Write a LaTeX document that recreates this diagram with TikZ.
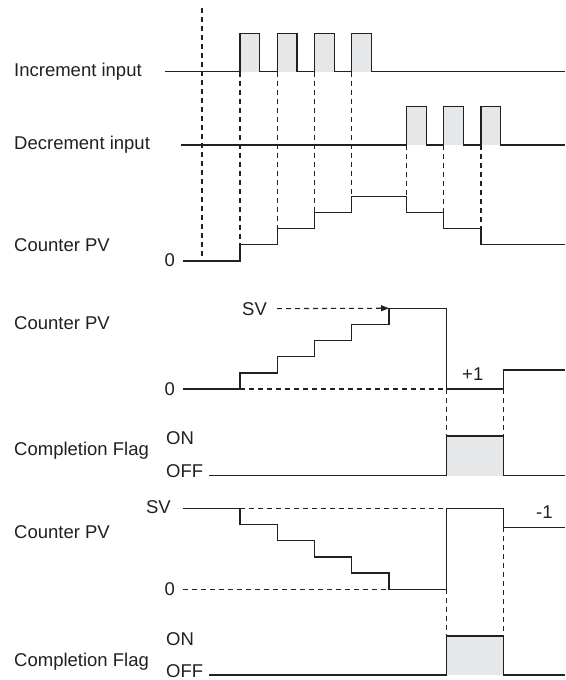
\documentclass[tikz,border=0pt]{standalone}
\usepackage{fontspec}
\setmainfont{Liberation Sans}
\usetikzlibrary{arrows.meta}
\definecolor{inkgray}{HTML}{231F20}
\definecolor{pulsegray}{HTML}{E6E7E8}

\begin{document}
\begin{tikzpicture}[
                x=1pt, y=-1pt,
                every node/.style={inner sep=0pt, text=inkgray, font=\fontsize{18.5}{21}\selectfont},
                wave/.style={draw=inkgray, line width=1.3pt},
                guide/.style={draw=inkgray, line width=1.1pt, dash pattern=on 5pt off 4pt},
                pulse/.style={fill=pulsegray}
            ]
            \useasboundingbox (0,0) rectangle (565,680);

            % signal names
            \node[anchor=base west] (inc) at (14,76) {Increment input};
            \node[anchor=base west] (dec) at (14,149.3) {Decrement input};
            \node[anchor=base west] (pvA) at (14,251.7) {Counter PV};
            \node[anchor=base west] (pvB) at (14,329.3) {Counter PV};
            \node[anchor=base west] (flagA) at (14,455) {Completion Flag};
            \node[anchor=base west] (pvC) at (14,538) {Counter PV};
            \node[anchor=base west] (flagB) at (14,666) {Completion Flag};

            % levels
            \node[anchor=base east] (zeroA) at (175,266.7) {0};
            \node[anchor=base west] (svB) at (242,315) {SV};
            \node[anchor=base east] (zeroB) at (175,395) {0};
            \node[anchor=base west] (plusone) at (462,380) {+1};
            \node[anchor=base west] (onA) at (166,444.3) {ON};
            \node[anchor=base west] (offA) at (166,477.7) {OFF};
            \node[anchor=base east] (svC) at (171,513.3) {SV};
            \node[anchor=base west] (minusone) at (536,518.3) {-1};
            \node[anchor=base east] (zeroC) at (175,595.7) {0};
            \node[anchor=base west] (onB) at (166,645) {ON};
            \node[anchor=base west] (offB) at (166,677) {OFF};

            % inputs
            \foreach \t in {240,277.25,314.5,351.75}
                \fill[pulse] (\t,33.3) rectangle (\t+19.8,71.7);
            \foreach \t in {406.5,443.75,481}
                \fill[pulse] (\t,106.7) rectangle (\t+19.8,145);
            \draw[wave] (165,71.7) \foreach \t in {240,277.25,314.5,351.75} {
                    -- (\t,71.7) -- (\t,33.3) -- (\t+19.8,33.3) -- (\t+19.8,71.7)
                } -- (565,71.7);
            \draw[wave] (181,145) \foreach \t in {406.5,443.75,481} {
                    -- (\t,145) -- (\t,106.7) -- (\t+19.8,106.7) -- (\t+19.8,145)
                } -- (565,145);

            % up/down counter
            \draw[wave] (183,261) -- (240,261) -- (240,244.8) -- (277.25,244.8)
                -- (277.25,228.6) -- (314.5,228.6) -- (314.5,212.4) -- (351.75,212.4)
                -- (351.75,196.2) -- (406.5,196.2) -- (406.5,212.4) -- (443.75,212.4)
                -- (443.75,228.6) -- (481,228.6) -- (481,244.8) -- (565,244.8);
            \draw[guide] (202,8) -- (202,261);
            \foreach \t/\l in {240/244.8,277.25/228.6,314.5/212.4,351.75/196.2}
                \draw[guide] (\t,71.7) -- (\t,\l);
            \foreach \t/\l in {406.5/196.2,443.75/212.4,481/228.6}
                \draw[guide] (\t,145) -- (\t,\l);

            % incrementing counter
            \draw[wave] (183,389) -- (240,389) -- (240,372.85) -- (277.25,372.85)
                -- (277.25,356.7) -- (314.5,356.7) -- (314.5,340.55) -- (351.75,340.55)
                -- (351.75,324.4) -- (389,324.4) -- (389,308.25) -- (446.8,308.25)
                -- (446.8,389) -- (503.4,389) -- (503.4,370) -- (565,370);
            \draw[guide] (240,389) -- (446.8,389);
            \draw[guide, -{Triangle[length=8pt,width=6pt]}] ([xshift=10pt]svB.east) -- (389,308.25);
            \draw[guide] (446.8,389) -- (446.8,436);
            \draw[guide] (503.4,389) -- (503.4,436);
            \fill[pulse] (446.8,436) rectangle (503.4,475.7);
            \draw[wave] (209,475.7) -- (446.8,475.7) -- (446.8,436) -- (503.4,436)
                -- (503.4,475.7) -- (565,475.7);

            % decrementing counter
            \draw[guide] (240,508.3) -- (446.8,508.3);
            \draw[guide] (183,589.3) -- (389,589.3);
            \draw[wave] (183,508.3) -- (240,508.3) -- (240,524.5) -- (277.25,524.5)
                -- (277.25,540.7) -- (314.5,540.7) -- (314.5,556.9) -- (351.75,556.9)
                -- (351.75,573.1) -- (389,573.1) -- (389,589.3) -- (446.8,589.3)
                -- (446.8,508.3) -- (503.4,508.3) -- (503.4,527.3) -- (565,527.3);
            \draw[guide] (446.8,589.3) -- (446.8,636);
            \draw[guide] (503.4,527.3) -- (503.4,636);
            \fill[pulse] (446.8,636) rectangle (503.4,675);
            \draw[wave] (209,675) -- (446.8,675) -- (446.8,636) -- (503.4,636)
                -- (503.4,675) -- (565,675);

        \end{tikzpicture}
\end{document}
